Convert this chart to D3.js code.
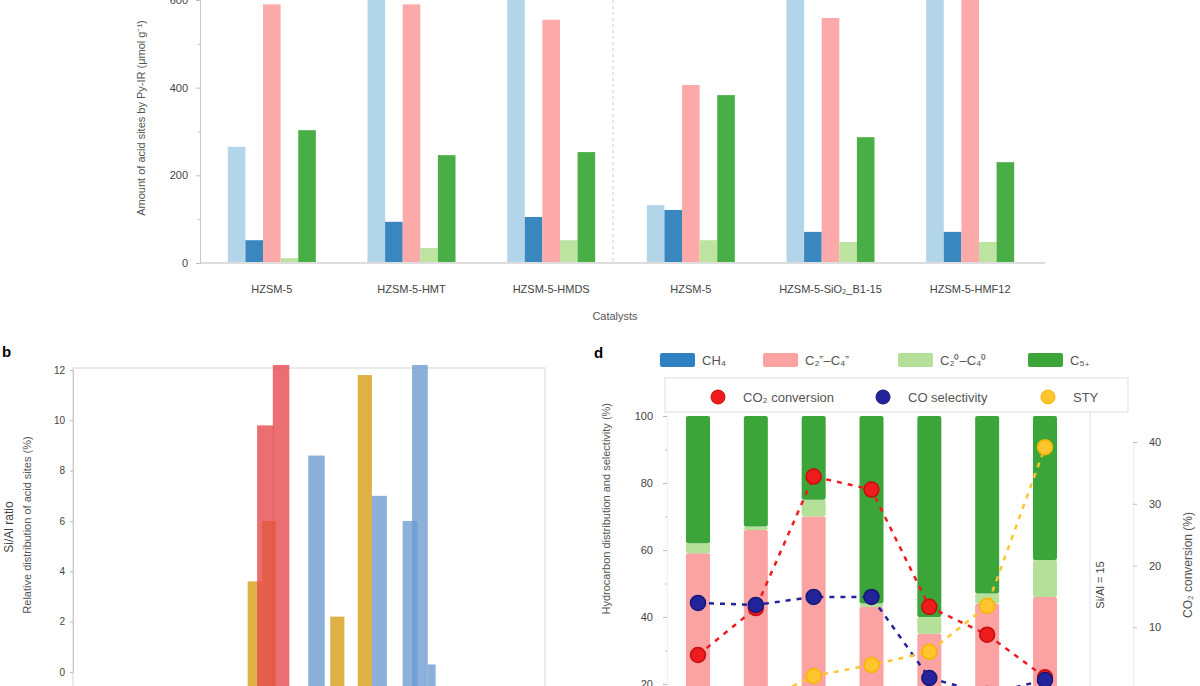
<!DOCTYPE html>
<html>
<head>
<meta charset="utf-8">
<script src="https://cdn.jsdelivr.net/npm/d3@7"></script>
<style>
  body { margin: 0; background: #fff; }
  text { font-family: "Liberation Sans", Arial, sans-serif; }
</style>
</head>
<body>
<script>
// ---- panel a : acid amounts per catalyst ----
const catalysts = ["HZSM-5", "HZSM-5-HMT", "HZSM-5-HMDS", "HZSM-5", "HZSM-5-SiO₂_B1-15", "HZSM-5-HMF12"];
const acidSeries = ["Total B", "Strong B", "Total L", "Strong L", "Medium"];
const totalB = [265, 700, 700, 132, 700, 700];
const strongB = [52, 94, 105, 121, 71, 71];
const totalL = [590, 590, 555, 406, 559, 640];
const strongL = [11, 34, 52, 52, 48, 48];
const medium = [303, 246, 253, 383, 287, 230];
const acidTicks = [0, 200, 400, 600];

// ---- panel b : distributions ----
const goldStart = [22.2, 24.0, 32.7, 36.2];
const goldCount = [3.6, 6.0, 2.2, 11.8];
const redStart = [23.4, 25.4];
const redCount = [9.8, 12.2];
const blueStart = [29.9, 38.0, 41.9, 43.1, 45.1];
const blueWidth = [2.1, 1.9, 1.9, 2.0, 1.0];
const blueCount = [8.6, 7.0, 6.0, 12.2, 0.3];
const distTicks = [0, 2, 4, 6, 8, 10, 12];

// ---- panel d : product distribution ----
const runs = ["1", "2", "3", "4", "5", "6", "7"];
const ch4 = [2, 2, 1, 2, 3, 2, 1];
const olefins = [57, 64, 69, 41, 32, 42, 45];
const paraffins = [3, 1, 5, 1, 5, 3, 11];
const c5plus = [38, 33, 25, 56, 60, 53, 43];
const co2Conv = [5.5, 13.1, 34.4, 32.3, 13.3, 8.8, 1.9];
const coSel = [44.2, 43.6, 46.0, 46.0, 21.8, 17.0, 21.2];
const sty = [12.0, 14.0, 22.4, 25.7, 29.6, 43.3, 90.7];

const W = 1200, H = 686;
const svg = d3.select("body").append("svg")
  .attr("width", W)
  .attr("height", H);
svg.append("rect").attr("width", W).attr("height", H).attr("fill", "#fff");

const styleAxis = (g) => {
  g.select(".domain").attr("stroke", "#c8c8c8");
  g.selectAll(".tick line").attr("stroke", "#bbb");
  g.selectAll(".tick text").attr("fill", "#444").attr("font-size", 11);
};

// ================= panel a =================
const acidColors = ["#b3d5ea", "#3a87c0", "#fca9a9", "#bde3a0", "#4aae47"];
const acidValues = [totalB, strongB, totalL, strongL, medium];

const xA = d3.scaleBand().domain(d3.range(catalysts.length)).range([202, 1040]);
const xA2 = d3.scaleBand().domain(acidSeries).range([-44, 44]);
const yA = d3.scaleLinear().domain([0, 600]).range([263, 0]);

const gA = svg.append("g");
acidSeries.forEach((s, i) => {
  gA.selectAll(null)
    .data(acidValues[i])
    .enter()
    .append("rect")
    .attr("x", (d, j) => xA(j) + xA.bandwidth() / 2 + xA2(s))
    .attr("y", d => yA(d))
    .attr("width", xA2.bandwidth())
    .attr("height", d => yA(0) - yA(d))
    .attr("fill", acidColors[i]);
});

// baseline and divider
svg.append("line")
  .attr("x1", 200).attr("x2", 1045)
  .attr("y1", yA(0)).attr("y2", yA(0))
  .attr("stroke", "#ddd").attr("stroke-width", 2);
svg.append("line")
  .attr("x1", xA(3) - 8).attr("x2", xA(3) - 8)
  .attr("y1", 0).attr("y2", yA(0))
  .attr("stroke", "#ccc").attr("stroke-dasharray", "3,3");

svg.append("g")
  .attr("transform", "translate(200,0)")
  .call(d3.axisLeft(yA).tickValues([100, 300, 500]).tickSize(2).tickFormat(""))
  .call(styleAxis);
svg.append("g")
  .attr("transform", "translate(200,0)")
  .call(d3.axisLeft(yA).tickValues(acidTicks).tickSize(4).tickPadding(8))
  .call(styleAxis);

svg.append("g")
  .attr("transform", "translate(0," + yA(0) + ")")
  .call(d3.axisBottom(xA).tickFormat(i => catalysts[i]).tickSize(0).tickPadding(22))
  .call(g => g.select(".domain").remove())
  .call(g => g.selectAll("text").attr("fill", "#444").attr("font-size", 11));

svg.append("text")
  .attr("transform", "translate(145,118) rotate(-90)")
  .attr("text-anchor", "middle")
  .attr("font-size", 11)
  .attr("fill", "#555")
  .text("Amount of acid sites by Py-IR (μmol g⁻¹)");

svg.append("text")
  .attr("x", 615).attr("y", 320)
  .attr("text-anchor", "middle")
  .attr("font-size", 11)
  .attr("fill", "#555")
  .text("Catalysts");

// ================= panel b =================
const xB = d3.scaleLinear().domain([0, 60]).range([73, 545]);
const yB = d3.scaleLinear().domain([0, 12]).range([672, 370]);

svg.append("text")
  .attr("x", 2).attr("y", 357)
  .attr("font-size", 15).attr("font-weight", "bold")
  .text("b");

svg.append("rect")
  .attr("x", 73).attr("y", 368)
  .attr("width", 472).attr("height", 340)
  .attr("fill", "none").attr("stroke", "#d5d5d5");

const drawBins = (starts, widths, counts, color) => {
  svg.append("g").selectAll("rect")
    .data(counts)
    .enter()
    .append("rect")
    .attr("x", (d, i) => xB(starts[i]))
    .attr("width", (d, i) => xB(starts[i] + widths[i]) - xB(starts[i]))
    .attr("y", d => yB(d))
    .attr("height", d => yB(0) - yB(d) + 20)
    .attr("fill", color)
    .attr("fill-opacity", 0.78);
};
drawBins(goldStart, goldStart.map(() => 1.8), goldCount, "#d59a12");
drawBins(redStart, redStart.map(() => 2.1), redCount, "#e5474a");
drawBins(blueStart, blueWidth, blueCount, "#6a9bd1");

svg.append("g")
  .attr("transform", "translate(73,0)")
  .call(d3.axisLeft(yB).tickValues(distTicks).tickSize(3).tickPadding(5))
  .call(styleAxis)
  .call(g => g.selectAll(".tick text").attr("font-size", 10));

svg.append("text")
  .attr("transform", "translate(13,527) rotate(-90)")
  .attr("text-anchor", "middle")
  .attr("font-size", 12)
  .attr("fill", "#444")
  .text("Si/Al ratio");
svg.append("text")
  .attr("transform", "translate(31,525) rotate(-90)")
  .attr("text-anchor", "middle")
  .attr("font-size", 11)
  .attr("fill", "#555")
  .text("Relative distribution of acid sites (%)");

// ================= panel d =================
const xD = d3.scalePoint().domain(runs).range([698, 1045]);
const yD = d3.scaleLinear().domain([0, 100]).range([751, 416]);
const yR = d3.scaleLinear().domain([0, 40]).range([689, 442]);
const barW = 24;

svg.append("text")
  .attr("x", 594).attr("y", 358)
  .attr("font-size", 15).attr("font-weight", "bold")
  .text("d");

const prodKeys = ["CH₄", "C₂⁼–C₄⁼", "C₂⁰–C₄⁰", "C₅₊"];
const prodColors = ["#2f80c0", "#fba3a3", "#b5e09a", "#3ba53a"];
const prodValues = [ch4, olefins, paraffins, c5plus];
const table = runs.map((r, i) => {
  const row = { run: r };
  prodKeys.forEach((k, j) => { row[k] = prodValues[j][i]; });
  return row;
});
const stacked = d3.stack().keys(prodKeys)(table);

svg.append("g").selectAll("g")
  .data(stacked)
  .enter()
  .append("g")
  .attr("fill", (d, i) => prodColors[i])
  .selectAll("rect")
  .data(d => d)
  .enter()
  .append("rect")
  .attr("x", d => xD(d.data.run) - barW / 2)
  .attr("width", barW)
  .attr("y", d => yD(d[1]))
  .attr("height", d => yD(d[0]) - yD(d[1]))
  .attr("rx", 2);

// right frame line
svg.append("line")
  .attr("x1", 1090).attr("x2", 1090)
  .attr("y1", 412).attr("y2", 686)
  .attr("stroke", "#e2e2e2");

svg.append("g")
  .attr("transform", "translate(667,0)")
  .call(d3.axisLeft(yD).tickValues([10, 30, 50, 70, 90]).tickSize(2).tickFormat(""))
  .call(styleAxis);
svg.append("g")
  .attr("transform", "translate(667,0)")
  .call(d3.axisLeft(yD).ticks(5).tickSize(4).tickPadding(10))
  .call(styleAxis)
  .call(g => g.select(".domain").attr("stroke", "#eee"));

svg.append("g")
  .attr("transform", "translate(1133,0)")
  .call(d3.axisRight(yR).tickValues([10, 20, 30, 40]).tickSize(4).tickPadding(12))
  .call(styleAxis)
  .call(g => g.select(".domain").attr("stroke", "#eee"));

svg.append("text")
  .attr("transform", "translate(610,403) rotate(-90)")
  .attr("text-anchor", "end")
  .attr("font-size", 11)
  .attr("fill", "#555")
  .text("Hydrocarbon distribution and selectivity (%)");

svg.append("text")
  .attr("transform", "translate(1104,585) rotate(-90)")
  .attr("text-anchor", "middle")
  .attr("font-size", 11)
  .attr("fill", "#444")
  .text("Si/Al = 15");

svg.append("text")
  .attr("transform", "translate(1192,565) rotate(-90)")
  .attr("text-anchor", "middle")
  .attr("font-size", 12)
  .attr("fill", "#555")
  .text("CO₂ conversion (%)");

// lines
const lineSets = [
  { name: "CO₂ conversion", vals: co2Conv, y: yR, color: "#ee1c1c", dark: "#c40f0f" },
  { name: "CO selectivity", vals: coSel, y: yD, color: "#23239a", dark: "#17177a" },
  { name: "STY", vals: sty, y: yD, color: "#ffc52e", dark: "#f5b400" }
];
lineSets.forEach(s => {
  const line = d3.line()
    .x((d, i) => xD(runs[i]))
    .y(d => s.y(d));
  svg.append("path")
    .datum(s.vals)
    .attr("d", line)
    .attr("fill", "none")
    .attr("stroke", s.color)
    .attr("stroke-width", 2.5)
    .attr("stroke-dasharray", "5,6");
  svg.append("g").selectAll("circle")
    .data(s.vals)
    .enter()
    .append("circle")
    .attr("cx", (d, i) => xD(runs[i]))
    .attr("cy", d => s.y(d))
    .attr("r", 7.5)
    .attr("fill", s.color)
    .attr("stroke", s.dark)
    .attr("stroke-width", 1.5);
});

// legends for panel d
const leg1X = [660, 763, 898, 1028];
prodKeys.forEach((k, i) => {
  svg.append("rect")
    .attr("x", leg1X[i]).attr("y", 353)
    .attr("width", 35).attr("height", 14)
    .attr("rx", 2)
    .attr("fill", prodColors[i]);
  svg.append("text")
    .attr("x", leg1X[i] + 42).attr("y", 365)
    .attr("font-size", 13)
    .attr("fill", "#555")
    .text(k);
});

svg.append("rect")
  .attr("x", 665).attr("y", 378)
  .attr("width", 463).attr("height", 34)
  .attr("fill", "#fff")
  .attr("stroke", "#ddd");
const leg2X = [718, 883, 1048];
lineSets.forEach((s, i) => {
  svg.append("circle")
    .attr("cx", leg2X[i]).attr("cy", 397)
    .attr("r", 7)
    .attr("fill", s.color)
    .attr("stroke", s.dark);
  svg.append("text")
    .attr("x", leg2X[i] + 25).attr("y", 402)
    .attr("font-size", 13)
    .attr("fill", "#555")
    .text(s.name);
});
</script>
</body>
</html>
